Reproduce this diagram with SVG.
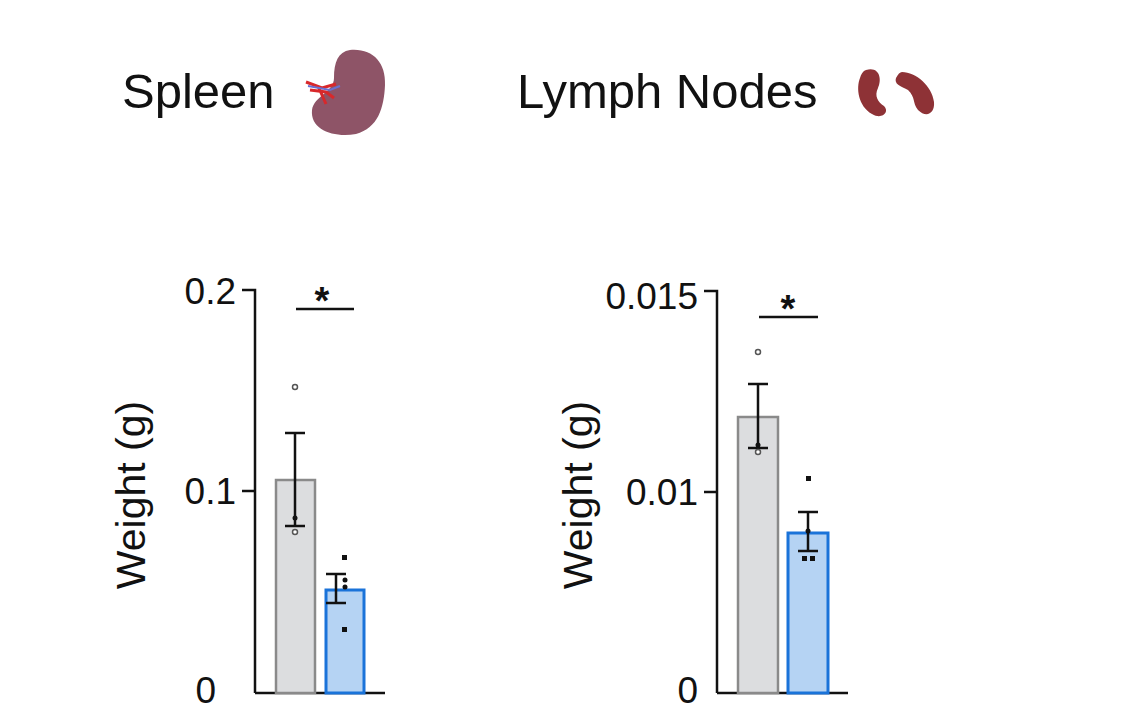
<svg xmlns="http://www.w3.org/2000/svg" width="1147" height="726" viewBox="0 0 1147 726">
<style>
text{font-family:"Liberation Sans",Arial,sans-serif;fill:#111}
.title{font-size:49px}
.tick{font-size:37px;text-anchor:end}
.ylab{font-size:41px;text-anchor:middle}
.ax{stroke:#111;stroke-width:2.5;fill:none}
.g{fill:#dcdddf;stroke:#8a8a8a;stroke-width:2.5}
.b{fill:#b5d3f3;stroke:#1a73d9;stroke-width:3}
.e{stroke:#111;stroke-width:2.5;fill:none}
.o{fill:#fff;stroke:#555;stroke-width:1.5}
.f{fill:#111}
.star{font-size:38px;text-anchor:middle;font-weight:bold}
</style>
<rect width="1147" height="726" fill="#fff"/>
<g id="title-spleen">
<text class="title" x="122" y="108">Spleen</text>
<path d="M350 50 C372 48 386 62 385 85 C384 108 378 128 356 134 C334 138 310 130 312 110 C314 96 334 92 334 78 C334 62 338 52 350 50Z" fill="#8e5467"/>
<path d="M306 82 L322 88 L336 84 M310 90 L326 92 L334 98 M318 86 L326 104" stroke="#d8282b" stroke-width="3" fill="none"/>
<path d="M308 86 L330 90 L340 86" stroke="#6a6fd0" stroke-width="2" fill="none"/>
</g>
<g id="title-lymph">
<text class="title" x="517" y="108">Lymph Nodes</text>
<path d="M866 70 C880 66 882 80 878 88 C874 96 878 102 884 106 C890 112 882 120 872 114 C858 106 856 88 860 78 C861 74 863 71 866 70Z" fill="#8e3236"/>
<path d="M902 72 C916 72 932 86 934 102 C935 114 926 118 918 110 C912 102 916 98 908 90 C900 86 894 84 896 78 C898 74 900 72 902 72Z" fill="#8e3236"/>
</g>
<g id="chart-spleen">
<text class="ylab" transform="translate(145,495) rotate(-90)">Weight (g)</text>
<text class="tick" x="236" y="304">0.2</text>
<text class="tick" x="236" y="504">0.1</text>
<text class="tick" x="216" y="703">0</text>
<path class="ax" d="M242 290 H255 V693 M242 491 H255 M255 693 H385"/>
<rect class="g" x="276" y="480" width="39" height="213"/>
<rect class="b" x="326" y="590" width="38" height="103"/>
<path class="e" d="M295 433 V526 M285 433 H305 M285 526 H305 M336 574 V603 M326 574 H346 M326 603 H346"/>
<circle class="o" cx="295" cy="387" r="2.5"/><circle class="o" cx="295" cy="532" r="2.5"/><circle class="f" cx="295" cy="518" r="2.5"/>
<rect class="f" x="342" y="555" width="5" height="5"/><rect class="f" x="342" y="627" width="5" height="5"/><circle class="f" cx="345" cy="587" r="2.5"/><circle class="f" cx="345" cy="580" r="2.5"/>
<path class="e" d="M296 309 H354"/>
<text class="star" x="322" y="314">*</text>
</g>
<g id="chart-lymph">
<text class="ylab" transform="translate(592,495) rotate(-90)">Weight (g)</text>
<text class="tick" x="698" y="309">0.015</text>
<text class="tick" x="698" y="505">0.01</text>
<text class="tick" x="698" y="703">0</text>
<path class="ax" d="M704 291 H717 V693 M704 492 H717 M717 693 H848"/>
<rect class="g" x="738" y="417" width="40" height="276"/>
<rect class="b" x="788" y="533" width="40" height="160"/>
<path class="e" d="M758 384 V448 M748 384 H768 M748 448 H768 M808 512 V551 M798 512 H818 M798 551 H818"/>
<circle class="o" cx="758" cy="352" r="2.5"/><circle class="o" cx="758" cy="452" r="2.5"/><circle class="f" cx="758" cy="445" r="2.5"/>
<rect class="f" x="806" y="476" width="5" height="5"/><rect class="f" x="802" y="556" width="5" height="5"/><rect class="f" x="810" y="556" width="5" height="5"/><circle class="f" cx="808" cy="531" r="2.5"/>
<path class="e" d="M759 317 H818"/>
<text class="star" x="788" y="322">*</text>
</g>
</svg>
